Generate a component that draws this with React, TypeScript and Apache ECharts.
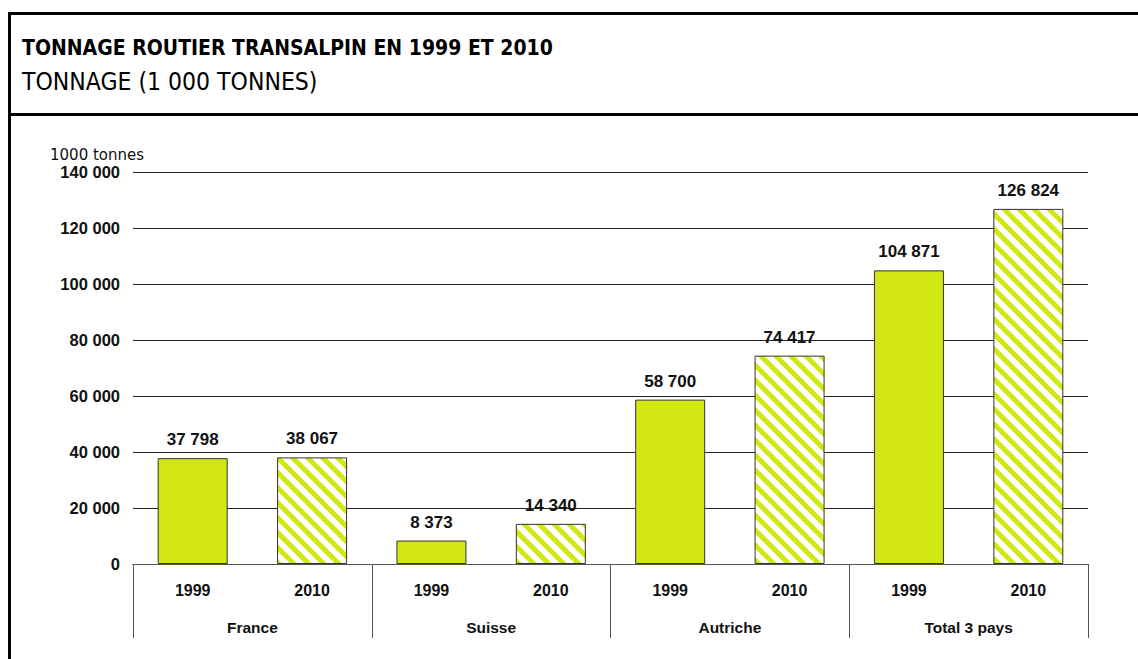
import React, { useEffect, useRef } from "react";
import * as echarts from "echarts";

const years = ["1999", "2010", "1999", "2010", "1999", "2010", "1999", "2010"];
const groups = ["France", "Suisse", "Autriche", "Total 3 pays"];
const values = [37798, 38067, 8373, 14340, 58700, 74417, 104871, 126824];
const titleText = "TONNAGE ROUTIER TRANSALPIN EN 1999 ET 2010";
const subtitleText = "TONNAGE (1 000 TONNES)";
const unitText = "1000 tonnes";

const LIME = "#d3e812";
const FONT = "'Liberation Sans', Arial, sans-serif";
const NARROW = "'DejaVu Sans Condensed', 'Liberation Sans', sans-serif";

const fmt = (v: number) => String(v).replace(/\B(?=(\d{3})+(?!\d))/g, " ");

function makePattern() {
  const s = 15;
  const c = document.createElement("canvas");
  c.width = s;
  c.height = s;
  const ctx = c.getContext("2d")!;
  ctx.fillStyle = "#ffffff";
  ctx.fillRect(0, 0, s, s);
  ctx.strokeStyle = LIME;
  ctx.lineWidth = 5;
  for (const k of [-s, 0, s]) {
    ctx.beginPath();
    ctx.moveTo(k - s, -s);
    ctx.lineTo(k + 2 * s, 2 * s);
    ctx.stroke();
  }
  return { image: c, repeat: "repeat", imageWidth: s, imageHeight: s };
}

export default function App() {
  const ref = useRef<HTMLDivElement>(null);
  useEffect(() => {
    if (!ref.current) return;
    const chart = echarts.init(ref.current, undefined, { renderer: "svg" });
    const pattern = makePattern();
    const labelStyle = { fontFamily: FONT, fontWeight: "bold" as const, fontSize: 16, color: "#111" };
    chart.setOption({
      animation: false,
      backgroundColor: "#ffffff",
      grid: { left: 133, right: 50, top: 172, bottom: 95, containLabel: false },
      xAxis: [
        {
          type: "category",
          data: years,
          position: "bottom",
          axisLine: { show: true, lineStyle: { color: "#555", width: 1 } },
          axisTick: { show: false },
          axisLabel: { ...labelStyle, margin: 18, interval: 0 },
          splitLine: { show: false },
        },
        {
          type: "category",
          data: groups,
          position: "bottom",
          axisLine: { show: true, lineStyle: { color: "#555", width: 1 } },
          axisTick: { show: true, length: 74, interval: 0, lineStyle: { color: "#555", width: 1 } },
          axisLabel: { ...labelStyle, fontSize: 15.5, margin: 55, interval: 0 },
          splitLine: { show: false },
        },
      ],
      yAxis: {
        type: "value",
        min: 0,
        max: 140000,
        interval: 20000,
        axisLine: { show: false },
        axisTick: { show: false },
        axisLabel: { ...labelStyle, fontSize: 16.5, margin: 13, formatter: (v: number) => fmt(v) },
        splitLine: { show: true, lineStyle: { color: "#222", width: 1 } },
      },
      series: [
        {
          type: "bar",
          xAxisIndex: 0,
          barWidth: 70,
          data: values.map((v, i) => ({
            value: v,
            itemStyle: { color: years[i] === "2010" ? pattern : LIME },
          })),
          itemStyle: { borderColor: "#333", borderWidth: 1 },
          label: {
            show: true,
            position: "top",
            distance: 10,
            ...labelStyle,
            fontSize: 17,
            formatter: (p: any) => fmt(p.value),
          },
        },
      ],
      graphic: [
        { type: "rect", shape: { x: 8, y: 12, width: 3, height: 647 }, style: { fill: "#000" } },
        { type: "rect", shape: { x: 8, y: 12, width: 1130, height: 3 }, style: { fill: "#000" } },
        { type: "rect", shape: { x: 8, y: 113, width: 1130, height: 3 }, style: { fill: "#000" } },
        {
          type: "text",
          x: 22,
          y: 48,
          style: { text: titleText, font: `bold 21px ${NARROW}`, fill: "#000", textVerticalAlign: "middle" },
        },
        {
          type: "text",
          x: 22,
          y: 81,
          style: { text: subtitleText, font: `24.5px ${NARROW}`, fill: "#000", textVerticalAlign: "middle" },
        },
        {
          type: "text",
          x: 50,
          y: 155,
          style: { text: unitText, font: `15px 'DejaVu Sans', sans-serif`, fill: "#111", textVerticalAlign: "middle" },
        },
      ],
    });
    return () => chart.dispose();
  }, []);
  return (
    <div
      ref={ref}
      style={{ position: "absolute", left: 0, top: 0, width: 1138, height: 659 }}
    />
  );
}
